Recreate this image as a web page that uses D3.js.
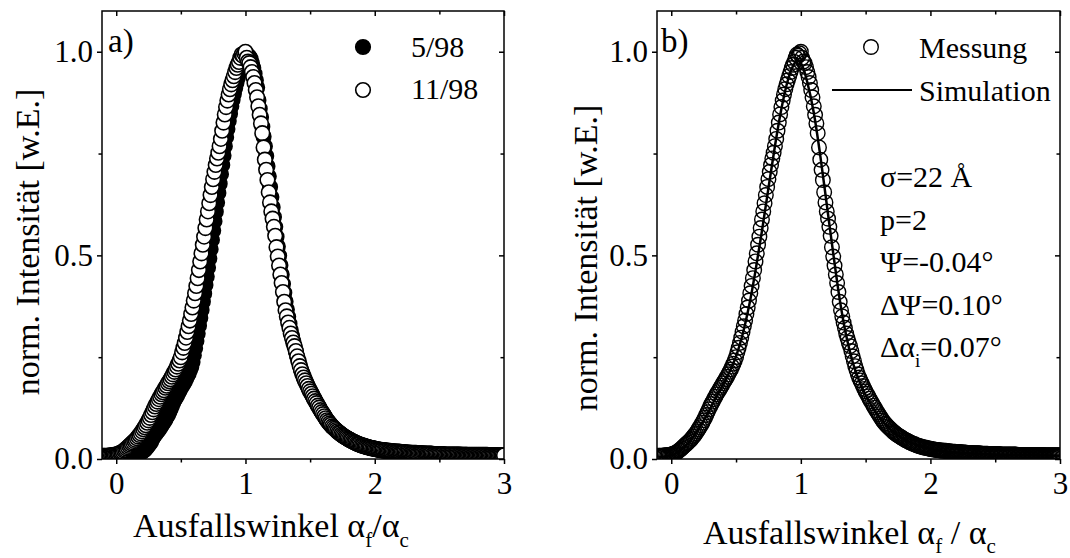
<!DOCTYPE html>
<html lang="de">
<head>
<meta charset="UTF-8">
<title>Ausfallswinkel - Intensität</title>
<script src="https://cdn.jsdelivr.net/npm/d3@7"></script>
<style>
  body { margin: 0; background: #fff; }
  svg text { font-family: "Liberation Serif", "DejaVu Serif", "Noto Serif", serif; }
</style>
</head>
<body>
<svg id="chart" width="1070" height="558" font-family="Liberation Serif, DejaVu Serif, serif"></svg>
<script>
// detector scan grid (alpha_f / alpha_c)
var alpha = [
-0.10,-0.09,-0.08,-0.07,-0.06,-0.05,-0.04,-0.03,-0.02,-0.01,
0.00,0.01,0.02,0.03,0.04,0.05,0.06,0.07,0.08,0.09,
0.10,0.11,0.12,0.13,0.14,0.15,0.16,0.17,0.18,0.19,
0.20,0.21,0.22,0.23,0.24,0.25,0.26,0.27,0.28,0.29,
0.30,0.31,0.32,0.33,0.34,0.35,0.36,0.37,0.38,0.39,
0.40,0.41,0.42,0.43,0.44,0.45,0.46,0.47,0.48,0.49,
0.50,0.51,0.52,0.53,0.54,0.55,0.56,0.57,0.58,0.59,
0.60,0.61,0.62,0.63,0.64,0.65,0.66,0.67,0.68,0.69,
0.70,0.71,0.72,0.73,0.74,0.75,0.76,0.77,0.78,0.79,
0.80,0.81,0.82,0.83,0.84,0.85,0.86,0.87,0.88,0.89,
0.90,0.91,0.92,0.93,0.94,0.95,0.96,0.97,0.98,0.99,
1.00,1.01,1.02,1.03,1.04,1.05,1.06,1.07,1.08,1.09,
1.10,1.11,1.12,1.13,1.14,1.15,1.16,1.17,1.18,1.19,
1.20,1.21,1.22,1.23,1.24,1.25,1.26,1.27,1.28,1.29,
1.30,1.31,1.32,1.33,1.34,1.35,1.36,1.37,1.38,1.39,
1.40,1.41,1.42,1.43,1.44,1.45,1.46,1.47,1.48,1.49,
1.50,1.51,1.52,1.53,1.54,1.55,1.56,1.57,1.58,1.59,
1.60,1.61,1.62,1.63,1.64,1.65,1.66,1.67,1.68,1.69,
1.70,1.71,1.72,1.73,1.74,1.75,1.76,1.77,1.78,1.79,
1.80,1.81,1.82,1.83,1.84,1.85,1.86,1.87,1.88,1.89,
1.90,1.91,1.92,1.93,1.94,1.95,1.96,1.97,1.98,1.99,
2.00,2.01,2.02,2.03,2.04,2.05,2.06,2.07,2.08,2.09,
2.10,2.11,2.12,2.13,2.14,2.15,2.16,2.17,2.18,2.19,
2.20,2.21,2.22,2.23,2.24,2.25,2.26,2.27,2.28,2.29,
2.30,2.31,2.32,2.33,2.34,2.35,2.36,2.37,2.38,2.39,
2.40,2.41,2.42,2.43,2.44,2.45,2.46,2.47,2.48,2.49,
2.50,2.51,2.52,2.53,2.54,2.55,2.56,2.57,2.58,2.59,
2.60,2.61,2.62,2.63,2.64,2.65,2.66,2.67,2.68,2.69,
2.70,2.71,2.72,2.73,2.74,2.75,2.76,2.77,2.78,2.79,
2.80,2.81,2.82,2.83,2.84,2.85,2.86,2.87,2.88,2.89,
2.90,2.91,2.92,2.93,2.94,2.95,2.96,2.97,2.98,2.99,
3.00];

// measurement 11/98 (also shown as "Messung" in b)
var int1198 = [
0.008,0.008,0.008,0.008,0.008,0.009,0.009,0.009,0.010,0.010,
0.011,0.012,0.013,0.015,0.016,0.018,0.021,0.023,0.026,0.029,
0.032,0.035,0.038,0.041,0.044,0.047,0.051,0.055,0.059,0.063,
0.068,0.073,0.078,0.083,0.089,0.095,0.101,0.108,0.115,0.122,
0.129,0.135,0.141,0.147,0.153,0.159,0.164,0.169,0.175,0.180,
0.186,0.191,0.196,0.202,0.208,0.214,0.220,0.227,0.234,0.242,
0.250,0.262,0.273,0.285,0.298,0.312,0.326,0.340,0.356,0.372,
0.389,0.407,0.425,0.444,0.464,0.485,0.505,0.526,0.546,0.567,
0.588,0.608,0.628,0.648,0.668,0.687,0.705,0.722,0.738,0.752,
0.768,0.786,0.806,0.826,0.846,0.864,0.880,0.895,0.908,0.920,
0.930,0.940,0.950,0.960,0.968,0.975,0.985,0.993,0.990,0.996,
1.000,0.985,0.976,0.972,0.962,0.950,0.938,0.923,0.906,0.888,
0.866,0.845,0.824,0.800,0.765,0.735,0.710,0.685,0.655,0.630,
0.608,0.590,0.570,0.548,0.520,0.497,0.475,0.453,0.432,0.410,
0.386,0.365,0.350,0.335,0.322,0.308,0.297,0.286,0.277,0.265,
0.252,0.240,0.228,0.218,0.208,0.200,0.193,0.186,0.179,0.172,
0.166,0.160,0.154,0.148,0.142,0.137,0.131,0.126,0.120,0.115,
0.110,0.105,0.100,0.095,0.091,0.087,0.084,0.080,0.077,0.074,
0.071,0.068,0.065,0.063,0.060,0.058,0.056,0.054,0.052,0.050,
0.048,0.046,0.045,0.043,0.041,0.040,0.038,0.037,0.036,0.034,
0.033,0.032,0.031,0.030,0.029,0.028,0.028,0.027,0.026,0.026,
0.025,0.024,0.024,0.023,0.023,0.022,0.022,0.021,0.021,0.021,
0.020,0.020,0.020,0.019,0.019,0.019,0.018,0.018,0.018,0.018,
0.017,0.017,0.017,0.017,0.016,0.016,0.016,0.016,0.015,0.015,
0.015,0.015,0.015,0.014,0.014,0.014,0.014,0.014,0.014,0.013,
0.013,0.013,0.013,0.013,0.013,0.012,0.012,0.012,0.012,0.012,
0.012,0.012,0.012,0.012,0.011,0.011,0.011,0.011,0.011,0.011,
0.011,0.011,0.011,0.011,0.011,0.011,0.011,0.010,0.010,0.010,
0.010,0.010,0.010,0.010,0.010,0.010,0.010,0.010,0.010,0.010,
0.010,0.010,0.010,0.010,0.010,0.010,0.010,0.010,0.009,0.009,
0.009,0.009,0.009,0.009,0.009,0.009,0.009,0.009,0.009,0.009,
0.009];

// measurement 5/98
var int0598 = [
0.004,0.004,0.004,0.004,0.004,0.004,0.004,0.004,0.004,0.004,
0.004,0.004,0.004,0.004,0.004,0.004,0.004,0.004,0.004,0.004,
0.004,0.004,0.005,0.006,0.007,0.008,0.010,0.012,0.014,0.016,
0.018,0.020,0.022,0.026,0.030,0.034,0.038,0.043,0.050,0.055,
0.060,0.064,0.068,0.072,0.077,0.082,0.087,0.092,0.097,0.103,
0.108,0.115,0.122,0.130,0.138,0.145,0.150,0.156,0.162,0.168,
0.174,0.180,0.185,0.190,0.197,0.204,0.210,0.218,0.226,0.238,
0.255,0.272,0.290,0.308,0.327,0.346,0.366,0.386,0.406,0.427,
0.448,0.470,0.492,0.515,0.538,0.561,0.584,0.607,0.630,0.653,
0.676,0.699,0.722,0.745,0.768,0.790,0.810,0.830,0.848,0.866,
0.882,0.897,0.911,0.924,0.936,0.947,0.957,0.966,0.974,0.980,
0.985,0.988,0.990,0.988,0.982,0.972,0.960,0.946,0.930,0.912,
0.881,0.860,0.839,0.816,0.792,0.768,0.744,0.719,0.694,0.668,
0.643,0.618,0.594,0.570,0.546,0.522,0.499,0.476,0.453,0.430,
0.408,0.387,0.367,0.349,0.332,0.316,0.302,0.289,0.276,0.264,
0.252,0.241,0.230,0.220,0.211,0.203,0.195,0.188,0.181,0.174,
0.168,0.162,0.156,0.150,0.144,0.138,0.132,0.127,0.121,0.116,
0.111,0.106,0.101,0.096,0.092,0.088,0.084,0.080,0.077,0.074,
0.071,0.068,0.066,0.063,0.061,0.058,0.056,0.054,0.052,0.050,
0.048,0.047,0.045,0.043,0.042,0.040,0.039,0.037,0.036,0.035,
0.034,0.033,0.032,0.031,0.030,0.029,0.028,0.027,0.026,0.026,
0.025,0.024,0.023,0.023,0.022,0.022,0.021,0.021,0.020,0.020,
0.019,0.019,0.019,0.018,0.018,0.018,0.017,0.017,0.017,0.016,
0.016,0.016,0.016,0.015,0.015,0.015,0.015,0.014,0.014,0.014,
0.014,0.014,0.013,0.013,0.013,0.013,0.013,0.012,0.012,0.012,
0.012,0.012,0.012,0.011,0.011,0.011,0.011,0.011,0.011,0.011,
0.010,0.010,0.010,0.010,0.010,0.010,0.010,0.010,0.010,0.010,
0.010,0.010,0.010,0.010,0.010,0.010,0.010,0.010,0.010,0.010,
0.010,0.010,0.009,0.009,0.009,0.009,0.009,0.009,0.009,0.009,
0.009,0.009,0.009,0.009,0.009,0.009,0.009,0.009,0.009,0.009,
0.009,0.009,0.009,0.009,0.009,0.008,0.008,0.008,0.008,0.008,
0.008];

// simulation curve for b)
var simAlpha = [-0.10,-0.05,0.00,0.05,0.10,0.15,0.20,0.25,0.30,0.35,0.40,0.45,0.50,0.55,0.60,0.65,0.70,0.75,0.80,0.85,
  0.90,0.93,0.96,0.98,1.00,1.02,1.05,1.10,1.15,1.20,1.25,1.30,1.35,1.40,1.45,1.50,1.55,1.60,1.65,1.70,
  1.75,1.80,1.85,1.90,2.00,2.10,2.20,2.40,2.60,2.80,3.00];
var simInt = [0.004,0.006,0.009,0.016,0.029,0.046,0.068,0.094,0.124,0.154,0.183,0.214,0.252,0.305,0.375,0.462,0.560,0.665,0.768,0.860,
  0.930,0.958,0.975,0.978,0.972,0.958,0.925,0.850,0.745,0.625,0.505,0.392,0.303,0.238,0.192,0.157,0.128,0.105,0.086,0.070,
  0.058,0.048,0.040,0.034,0.025,0.019,0.016,0.012,0.010,0.009,0.008];

var xTicks = [0, 1, 2, 3];
var xMinor = [0.5, 1.5, 2.5];
var yTicks = [0, 0.5, 1.0];
var yMinor = [0.25, 0.75];
var xDomain = [-0.11, 3];
var yDomain = [0, 1.1];

var legendA = ["5/98", "11/98"];
var legendB = ["Messung", "Simulation"];
var params = [
  [["σ=22 Å", 0]],
  [["p=2", 0]],
  [["Ψ=-0.04°", 0]],
  [["ΔΨ=0.10°", 0]],
  [["Δα", 0], ["i", 1], ["=0.07°", 0]]
];

var FONT = "Liberation Serif, DejaVu Serif, serif";
var svg = d3.select("#chart");
var top0 = 11, bottom0 = 459;

function makePanel(left, right, id) {
  var x = d3.scaleLinear().domain(xDomain).range([left, right]);
  var y = d3.scaleLinear().domain(yDomain).range([bottom0, top0]);
  svg.append("clipPath").attr("id", id)
    .append("rect").attr("x", left).attr("y", top0)
    .attr("width", right - left).attr("height", bottom0 - top0);
  var plot = svg.append("g").attr("clip-path", "url(#" + id + ")");
  return {x: x, y: y, left: left, right: right, plot: plot};
}

function styleAxis(sel) {
  sel.attr("font-size", 31).attr("font-family", FONT);
  sel.select(".domain").remove();
  sel.selectAll("line").attr("stroke", "#000").attr("stroke-width", 1.5);
  sel.selectAll("text").attr("fill", "#000");
}

function drawAxes(p) {
  var g = svg.append("g");
  g.append("g").attr("transform", "translate(0," + bottom0 + ")")
    .call(d3.axisBottom(p.x).tickValues(xTicks).tickSize(5).tickFormat(d3.format("d")))
    .call(styleAxis)
    .selectAll("text").attr("y", 35).attr("dy", null);
  g.append("g").attr("transform", "translate(0," + bottom0 + ")")
    .call(d3.axisBottom(p.x).tickValues(xMinor).tickSize(3.5).tickFormat(""))
    .call(styleAxis);
  g.append("g").attr("transform", "translate(0," + top0 + ")")
    .call(d3.axisTop(p.x).tickValues(xTicks).tickSize(-5).tickFormat(""))
    .call(styleAxis);
  g.append("g").attr("transform", "translate(0," + top0 + ")")
    .call(d3.axisTop(p.x).tickValues(xMinor).tickSize(-3.5).tickFormat(""))
    .call(styleAxis);
  g.append("g").attr("transform", "translate(" + p.left + ",0)")
    .call(d3.axisLeft(p.y).tickValues(yTicks).tickSize(5).tickPadding(4).tickFormat(d3.format(".1f")))
    .call(styleAxis);
  g.append("g").attr("transform", "translate(" + p.left + ",0)")
    .call(d3.axisLeft(p.y).tickValues(yMinor).tickSize(3.5).tickFormat(""))
    .call(styleAxis);
  g.append("g").attr("transform", "translate(" + p.right + ",0)")
    .call(d3.axisRight(p.y).tickValues(yTicks).tickSize(-5).tickFormat(""))
    .call(styleAxis);
  g.append("g").attr("transform", "translate(" + p.right + ",0)")
    .call(d3.axisRight(p.y).tickValues(yMinor).tickSize(-3.5).tickFormat(""))
    .call(styleAxis);
  g.append("rect").attr("x", p.left).attr("y", top0)
    .attr("width", p.right - p.left).attr("height", bottom0 - top0)
    .attr("fill", "none").attr("stroke", "#000").attr("stroke-width", 1.5);
}

function label(x, y, size, str) {
  return svg.append("text").attr("x", x).attr("y", y).attr("font-size", size)
    .attr("font-family", FONT).attr("fill", "#000").text(str);
}

// text with optional subscripts: parts = [[text, isSub], ...]
function richText(x, y, size, parts, subSize, drop) {
  var t = svg.append("text").attr("x", x).attr("y", y).attr("font-size", size)
    .attr("font-family", FONT).attr("fill", "#000");
  var down = false;
  parts.forEach(function (pt) {
    var s = t.append("tspan").text(pt[0]);
    if (pt[1]) { s.attr("font-size", subSize).attr("dy", drop); down = true; }
    else if (down) { s.attr("dy", -drop); down = false; }
  });
  return t;
}

function yTitle(cx, cy) {
  svg.append("text")
    .attr("transform", "translate(" + cx + "," + cy + ") rotate(-90)")
    .attr("text-anchor", "middle").attr("font-size", 34)
    .attr("font-family", FONT).attr("fill", "#000")
    .text("norm. Intensität [w.E.]");
}

var R = 7.3;
function pts(xs, ys) {
  var n = Math.min(xs.length, ys.length), out = [];
  for (var i = 0; i < n; i++) out.push([xs[i], ys[i]]);
  return out;
}

// ---------- panel a ----------
var pa = makePanel(102, 504, "clipA");
pa.plot.selectAll("circle.f").data(pts(alpha, int0598)).enter().append("circle")
  .attr("class", "f")
  .attr("cx", function (d) { return pa.x(d[0]); })
  .attr("cy", function (d) { return pa.y(d[1]); })
  .attr("r", R).attr("fill", "#000").attr("stroke", "#000").attr("stroke-width", 1.6);
pa.plot.selectAll("circle.o").data(pts(alpha, int1198)).enter().append("circle")
  .attr("class", "o")
  .attr("cx", function (d) { return pa.x(d[0]); })
  .attr("cy", function (d) { return pa.y(d[1]); })
  .attr("r", R).attr("fill", "#fff").attr("stroke", "#000").attr("stroke-width", 1.6);
drawAxes(pa);

label(108, 52, 33, "a)");
svg.append("circle").attr("cx", 363).attr("cy", 47).attr("r", R).attr("fill", "#000").attr("stroke", "#000").attr("stroke-width", 1.6);
svg.append("circle").attr("cx", 363).attr("cy", 90).attr("r", R).attr("fill", "#fff").attr("stroke", "#000").attr("stroke-width", 1.6);
label(411, 57, 30, legendA[0]);
label(411, 99, 30, legendA[1]);

yTitle(39, 242);
richText(133, 537, 34, [["Ausfallswinkel α", 0], ["f", 1], ["/α", 0], ["c", 1]], 21, 10);

// ---------- panel b ----------
var pb = makePanel(657, 1060, "clipB");
pb.plot.selectAll("circle.m").data(pts(alpha, int1198)).enter().append("circle")
  .attr("class", "m")
  .attr("cx", function (d) { return pb.x(d[0]); })
  .attr("cy", function (d) { return pb.y(d[1]); })
  .attr("r", R).attr("fill", "none").attr("stroke", "#000").attr("stroke-width", 1.4);
pb.plot.append("path").datum(pts(simAlpha, simInt))
  .attr("fill", "none").attr("stroke", "#000").attr("stroke-width", 2.5)
  .attr("d", d3.line().x(function (d) { return pb.x(d[0]); }).y(function (d) { return pb.y(d[1]); }).curve(d3.curveMonotoneX));
drawAxes(pb);

label(661, 52, 33, "b)");
svg.append("circle").attr("cx", 871).attr("cy", 47).attr("r", R).attr("fill", "none").attr("stroke", "#000").attr("stroke-width", 1.4);
svg.append("line").attr("x1", 832).attr("x2", 912).attr("y1", 90).attr("y2", 90).attr("stroke", "#000").attr("stroke-width", 2.2);
label(919, 58, 30, legendB[0]);
label(919, 101, 30, legendB[1]);

var baseY = [187, 229.5, 272, 314.5, 357];
params.forEach(function (p, i) {
  richText(880, baseY[i], 30, p, 19, 10);
});

yTitle(597, 258);
richText(703, 544, 34, [["Ausfallswinkel α", 0], ["f", 1], [" / α", 0], ["c", 1]], 21, 9);
</script>
</body>
</html>
